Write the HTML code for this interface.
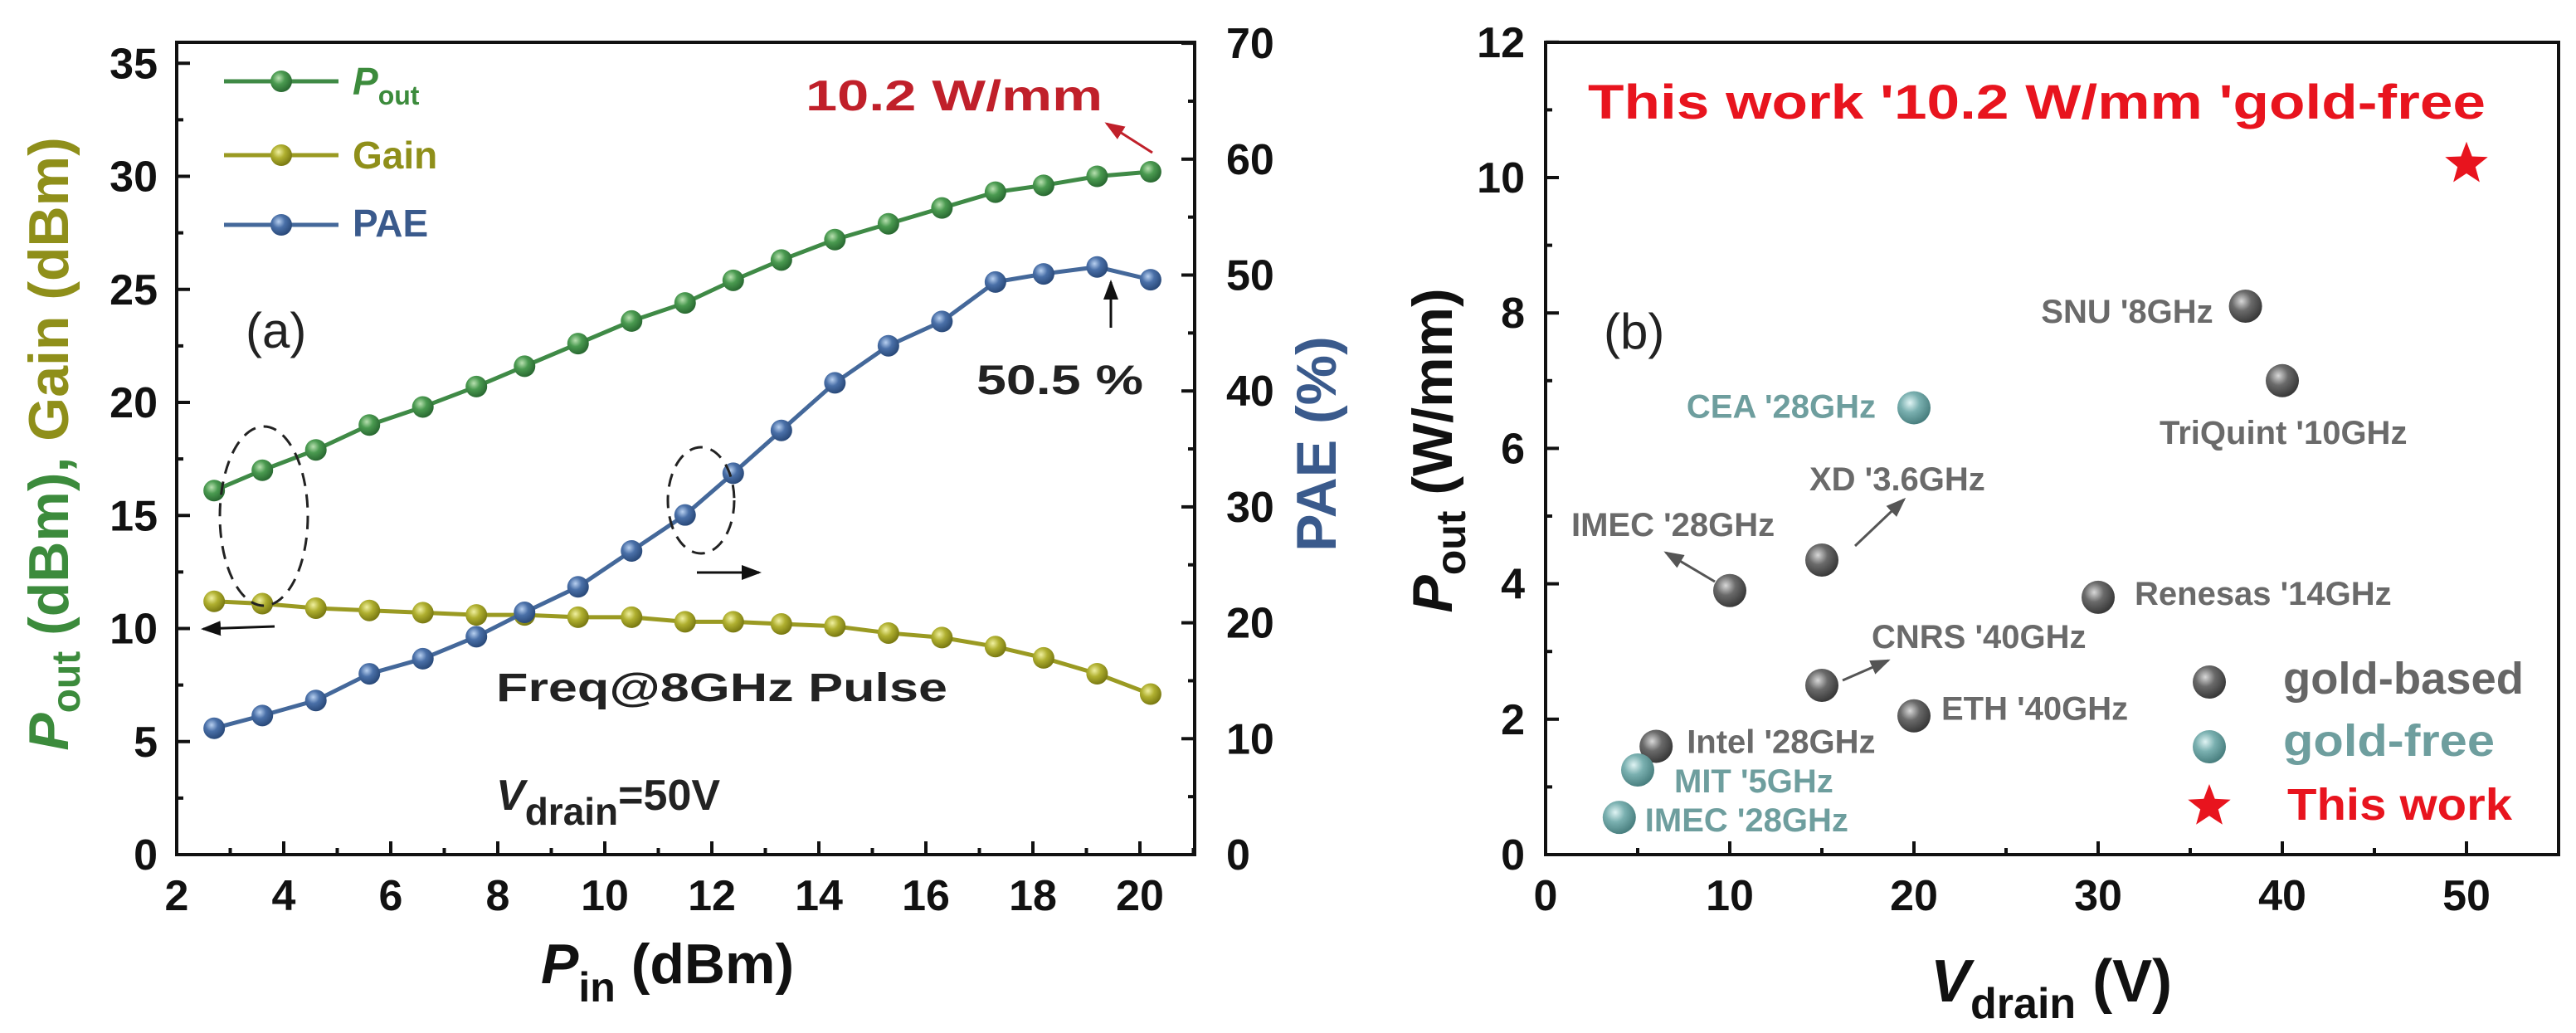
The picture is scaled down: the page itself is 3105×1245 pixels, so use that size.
<!DOCTYPE html>
<html><head><meta charset="utf-8"><style>
html,body{margin:0;padding:0;background:#fff;}
svg{display:block;font-family:"Liberation Sans",Arial,sans-serif;font-weight:bold;}
</style></head><body>
<svg id="fig" width="3105" height="1245" viewBox="0 0 3105 1245" xmlns="http://www.w3.org/2000/svg">
<defs>
<radialGradient id="gGreen" cx="0.38" cy="0.35" r="0.65"><stop offset="0" stop-color="#b8e0b0"/><stop offset="0.45" stop-color="#4a9a50"/><stop offset="1" stop-color="#2a6a32"/></radialGradient>
<radialGradient id="gOlive" cx="0.38" cy="0.35" r="0.65"><stop offset="0" stop-color="#f0f0a0"/><stop offset="0.45" stop-color="#b0b030"/><stop offset="1" stop-color="#7a7a12"/></radialGradient>
<radialGradient id="gBlue" cx="0.38" cy="0.35" r="0.65"><stop offset="0" stop-color="#b8d0f0"/><stop offset="0.45" stop-color="#4a70a8"/><stop offset="1" stop-color="#2a4a7a"/></radialGradient>
<radialGradient id="gGray" cx="0.38" cy="0.35" r="0.65"><stop offset="0" stop-color="#d8d8d8"/><stop offset="0.45" stop-color="#6a6a6a"/><stop offset="1" stop-color="#3a3a3a"/></radialGradient>
<radialGradient id="gTeal" cx="0.38" cy="0.35" r="0.65"><stop offset="0" stop-color="#e0f4f4"/><stop offset="0.45" stop-color="#7ab0b0"/><stop offset="1" stop-color="#4a8080"/></radialGradient>
<marker id="ahK" markerWidth="8" markerHeight="8" refX="7" refY="4" orient="auto" markerUnits="strokeWidth"><path d="M0,1 L8,4 L0,7 z" fill="#111"/></marker>
<marker id="ahG" markerWidth="8" markerHeight="8" refX="7" refY="4" orient="auto" markerUnits="strokeWidth"><path d="M0,1 L8,4 L0,7 z" fill="#555"/></marker>
<marker id="ahR" markerWidth="8" markerHeight="8" refX="7" refY="4" orient="auto" markerUnits="strokeWidth"><path d="M0,1 L8,4 L0,7 z" fill="#c0202a"/></marker>
</defs>
<g id="left"></g>
<g id="right"></g>

<!-- chart a annotations -->
<text x="425" y="114" font-size="46" fill="#3c8b3c"><tspan font-style="italic">P</tspan><tspan font-size="32" dy="12">out</tspan></text>
<text x="425" y="203" font-size="46" fill="#8f8f1a">Gain</text>
<text x="425" y="285" font-size="46" fill="#3a5a8c">PAE</text>
<text x="971" y="133" font-size="52" fill="#c0202a" textLength="358" lengthAdjust="spacingAndGlyphs">10.2 W/mm</text>
<line x1="1389" y1="184" x2="1334" y2="149" stroke="#c0202a" stroke-width="3" marker-end="url(#ahR)"/>
<text x="296" y="419" font-size="60" font-weight="normal" fill="#222">(a)</text>
<text x="1177" y="475" font-size="50" fill="#222" textLength="201" lengthAdjust="spacingAndGlyphs">50.5 %</text>
<line x1="1339" y1="395" x2="1339" y2="340" stroke="#111" stroke-width="3" marker-end="url(#ahK)"/>
<text x="598" y="845" font-size="48" fill="#222" textLength="544" lengthAdjust="spacingAndGlyphs">Freq@8GHz Pulse</text>
<text x="598" y="976" font-size="52" fill="#222"><tspan font-style="italic">V</tspan><tspan font-size="46" dy="18">drain</tspan><tspan dy="-18">=50V</tspan></text>
<ellipse cx="318" cy="622" rx="53" ry="108" fill="none" stroke="#222" stroke-width="3" stroke-dasharray="16,10"/>
<line x1="331" y1="755" x2="245" y2="758" stroke="#111" stroke-width="3" marker-end="url(#ahK)"/>
<ellipse cx="845" cy="603" rx="40" ry="64" fill="none" stroke="#222" stroke-width="3" stroke-dasharray="16,10"/>
<line x1="840" y1="690" x2="915" y2="690" stroke="#111" stroke-width="3" marker-end="url(#ahK)"/>
<text transform="translate(82,535) rotate(-90)" text-anchor="middle" font-size="68"><tspan fill="#3c8b3c" font-style="italic">P</tspan><tspan fill="#3c8b3c" font-size="48" dy="14">out</tspan><tspan fill="#3c8b3c" dy="-14"> (dBm), </tspan><tspan fill="#8f8f1a">Gain (dBm)</tspan></text>
<text transform="translate(1610,535) rotate(-90)" text-anchor="middle" font-size="68" fill="#3a5a8c">PAE (%)</text>
<text x="652" y="1185" font-size="68" fill="#111"><tspan font-style="italic">P</tspan><tspan font-size="50" dy="22">in</tspan><tspan dy="-22"> (dBm)</tspan></text>

<!-- chart b annotations -->
<text x="1914" y="143" font-size="58" fill="#e8141e" textLength="1082" lengthAdjust="spacingAndGlyphs">This work '10.2 W/mm 'gold-free</text>
<text x="1933" y="420" font-size="60" font-weight="normal" fill="#222">(b)</text>
<line x1="2067" y1="701" x2="2008" y2="666" stroke="#555" stroke-width="3" marker-end="url(#ahG)"/>
<line x1="2236" y1="658" x2="2295" y2="602" stroke="#555" stroke-width="3" marker-end="url(#ahG)"/>
<line x1="2221" y1="820" x2="2276" y2="796" stroke="#555" stroke-width="3" marker-end="url(#ahG)"/>
<text x="2752" y="836" font-size="54" fill="#666" textLength="290" lengthAdjust="spacingAndGlyphs">gold-based</text>
<text x="2752" y="911" font-size="54" fill="#6e9e9e" textLength="255" lengthAdjust="spacingAndGlyphs">gold-free</text>
<text x="2757" y="988" font-size="54" fill="#e8141e" textLength="271" lengthAdjust="spacingAndGlyphs">This work</text>
<text transform="translate(1750,543) rotate(-90)" text-anchor="middle" font-size="68" fill="#111"><tspan font-style="italic">P</tspan><tspan font-size="50" dy="16">out</tspan><tspan dy="-16"> (W/mm)</tspan></text>
<text x="2327" y="1207" font-size="72" fill="#111"><tspan font-style="italic">V</tspan><tspan font-size="52" dy="20">drain</tspan><tspan dy="-20"> (V)</tspan></text>
</svg>
<script>
// ---------- chart (a) data ----------
const pinValues = [2.7,3.6,4.6,5.6,6.6,7.6,8.5,9.5,10.5,11.5,12.4,13.3,14.3,15.3,16.3,17.3,18.2,19.2,20.2];
const poutValues = [16.1,17.0,17.9,19.0,19.8,20.7,21.6,22.6,23.6,24.4,25.4,26.3,27.2,27.9,28.6,29.3,29.6,30.0,30.2];
const gainValues = [11.2,11.1,10.9,10.8,10.7,10.6,10.6,10.5,10.5,10.3,10.3,10.2,10.1,9.8,9.6,9.2,8.7,8.0,7.1];
const paeValues = [10.9,12.0,13.3,15.6,16.9,18.8,20.9,23.1,26.2,29.3,32.9,36.6,40.7,43.9,46.0,49.4,50.1,50.7,49.6];
const xTicksA = [2,4,6,8,10,12,14,16,18,20];
const yTicksA = [0,5,10,15,20,25,30,35];
const y2TicksA = [0,10,20,30,40,50,60,70];
// ---------- chart (b) data ----------
const devNames = ["SNU '8GHz","TriQuint '10GHz","CEA '28GHz","XD '3.6GHz","IMEC '28GHz","Renesas '14GHz","CNRS '40GHz","ETH '40GHz","Intel '28GHz","MIT '5GHz","IMEC '28GHz"];
const devVdrain = [38,40,20,15,10,30,15,20,6,5,4];
const devPout = [8.1,7.0,6.6,4.35,3.9,3.8,2.5,2.05,1.6,1.25,0.55];
const devType = ["based","based","free","based","based","based","based","based","based","free","free"];
const thisWorkV = [50];
const thisWorkP = [10.2];
const xTicksB = [0,10,20,30,40,50];
const yTicksB = [0,2,4,6,8,10,12];

const NS = "http://www.w3.org/2000/svg";
function mk(tag, attrs, parent){const e=document.createElementNS(NS,tag);for(const k in attrs)e.setAttribute(k,attrs[k]);parent.appendChild(e);return e;}

// ---- axes a ----
const A = {x0:213,x1:1440,y0:1030,y1:51};
const xa = v => 213 + (v-2)*64.5;
const ya = v => 1030 - v*27.25;
const ya2 = v => 1030 - v*13.97;
const L = document.getElementById('left');
const frameA = mk('rect',{x:A.x0,y:A.y1,width:A.x1-A.x0,height:A.y0-A.y1,fill:'none',stroke:'#111','stroke-width':4},L);


for(let v=2; v<=21; v+=1){
  const maj = v%2===0;
  const t = mk('line',{x1:xa(v),x2:xa(v),y1:A.y0,y2:A.y0-(maj?16:8),stroke:'#111','stroke-width':4},L);
  
  
}
xTicksA.forEach(v=>{
  const t = mk('text',{x:xa(v),y:1097,'text-anchor':'middle','font-size':52,fill:'#111'},L);
  t.textContent=v;
  
  
});
for(let v=0; v<=35; v+=2.5){
  const maj = v%5===0;
  const t = mk('line',{x1:A.x0,x2:A.x0+(maj?16:8),y1:ya(v),y2:ya(v),stroke:'#111','stroke-width':4},L);
  
  
}
yTicksA.forEach(v=>{
  const t = mk('text',{x:190,y:ya(v)+18,'text-anchor':'end','font-size':52,fill:'#111'},L);
  t.textContent=v;
  
  
});
for(let v=0; v<=70; v+=5){
  const maj = v%10===0;
  const t = mk('line',{x1:A.x1,x2:A.x1-(maj?16:8),y1:ya2(v),y2:ya2(v),stroke:'#111','stroke-width':4},L);
  
  
}
y2TicksA.forEach(v=>{
  const t = mk('text',{x:1478,y:ya2(v)+18,'text-anchor':'start','font-size':52,fill:'#111'},L);
  t.textContent=v;
  
  
});
function series(vals, yf, color, grad, name){
  const pts = pinValues.map((x,i)=>xa(x)+','+yf(vals[i])).join(' ');
  const pl = mk('polyline',{points:pts,fill:'none',stroke:color,'stroke-width':5},L);
  
  
  pinValues.forEach((x,i)=>{
    const c = mk('circle',{cx:xa(x),cy:yf(vals[i]),r:13,fill:'url(#'+grad+')'},L);
    
    
  });
}
series(gainValues, ya, '#9a9a22', 'gOlive', 'gain');
series(paeValues, ya2, '#44689a', 'gBlue', 'pae');
series(poutValues, ya, '#3f8a46', 'gGreen', 'pout');
[[98,'#3f8a46','gGreen','legend-pout'],[187,'#9a9a22','gOlive','legend-gain'],[271,'#44689a','gBlue','legend-pae']].forEach(d=>{
  const l = mk('line',{x1:270,x2:408,y1:d[0],y2:d[0],stroke:d[1],'stroke-width':5},L);
  
  
  const c = mk('circle',{cx:339,cy:d[0],r:13,fill:'url(#'+d[2]+')'},L);
  
  
});

// ---- axes b ----
const B = {x0:1863,x1:3084,y0:1030,y1:51};
const xb = v => 1863 + v*22.2;
const yb = v => 1030 - v*81.6;
const R = document.getElementById('right');
const frameB = mk('rect',{x:B.x0,y:B.y1,width:B.x1-B.x0,height:B.y0-B.y1,fill:'none',stroke:'#111','stroke-width':4},R);


for(let v=0; v<=55; v+=5){
  const maj = v%10===0;
  const t = mk('line',{x1:xb(v),x2:xb(v),y1:B.y0,y2:B.y0-(maj?16:8),stroke:'#111','stroke-width':4},R);
  
  
}
xTicksB.forEach(v=>{
  const t = mk('text',{x:xb(v),y:1097,'text-anchor':'middle','font-size':52,fill:'#111'},R);
  t.textContent=v;
  
  
});
for(let v=0; v<=12; v+=1){
  const maj = v%2===0;
  const t = mk('line',{x1:B.x0,x2:B.x0+(maj?16:8),y1:yb(v),y2:yb(v),stroke:'#111','stroke-width':4},R);
  
  
}
yTicksB.forEach(v=>{
  const t = mk('text',{x:1838,y:yb(v)+18,'text-anchor':'end','font-size':52,fill:'#111'},R);
  t.textContent=v;
  
  
});
// label offsets (layout, relative to point): dx, dy, anchor
const labelLayout = [[-39,20,'end'],[-148,76,'start'],[-46,12,'end'],[-15,-84,'start'],[-191,-66,'start'],[44,9,'start'],[60,-45,'start'],[33,5,'start'],[37,8,'start'],[44,27,'start'],[31,17,'start']];
devVdrain.forEach((v,i)=>{
  const c = mk('circle',{cx:xb(v),cy:yb(devPout[i]),r:20,fill:devType[i]==='free'?'url(#gTeal)':'url(#gGray)'},R);
  
  
  const lay = labelLayout[i];
  const t = mk('text',{x:xb(v)+lay[0],y:yb(devPout[i])+lay[1],'text-anchor':lay[2],'font-size':40,fill:devType[i]==='free'?'#6e9e9e':'#6a6a6a'},R);
  t.textContent = devNames[i];
  
  
});
function star(cx,cy,r){let p=[];for(let k=0;k<10;k++){const a=-Math.PI/2+k*Math.PI/5;const rr=k%2?r*0.42:r;p.push((cx+rr*Math.cos(a)).toFixed(1)+','+(cy+rr*Math.sin(a)).toFixed(1));}return p.join(' ');}
thisWorkV.forEach((v,i)=>{
  const s = mk('polygon',{points:star(xb(v),yb(thisWorkP[i]),27),fill:'#e8141e'},R);
  
  
});
const lg1 = mk('circle',{cx:2663,cy:822,r:20,fill:'url(#gGray)'},R);


const lg2 = mk('circle',{cx:2663,cy:900,r:20,fill:'url(#gTeal)'},R);


const lg3 = mk('polygon',{points:star(2663,972,27),fill:'#e8141e'},R);


</script>
</body></html>
